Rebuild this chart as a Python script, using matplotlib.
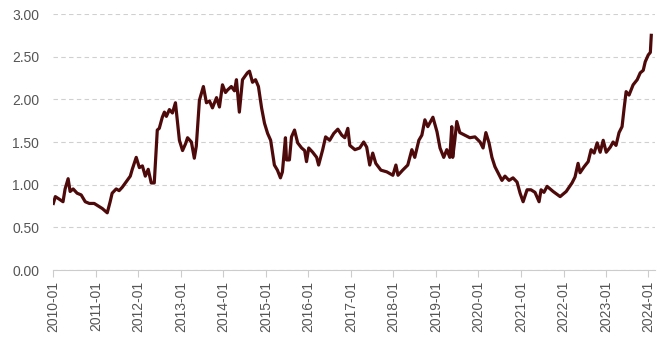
import matplotlib
matplotlib.use("Agg")
import matplotlib.pyplot as plt
import matplotlib.dates as mdates
import pandas as pd

dates = [
    "2010-01-01", "2010-01-18", "2010-02-21", "2010-03-25", "2010-04-12", "2010-05-08",
    "2010-05-25", "2010-06-20", "2010-07-24", "2010-08-28", "2010-10-02", "2010-11-06",
    "2010-12-18", "2011-01-22", "2011-02-26", "2011-04-09", "2011-05-04", "2011-05-21",
    "2011-06-25", "2011-07-20", "2011-08-16", "2011-09-28", "2011-10-24", "2011-11-10",
    "2011-12-14", "2012-01-10", "2012-02-05", "2012-03-01", "2012-03-26", "2012-04-21",
    "2012-05-17", "2012-06-12", "2012-06-29", "2012-07-25", "2012-08-12", "2012-08-29",
    "2012-09-24", "2012-10-20", "2012-11-15", "2012-12-19", "2013-01-15", "2013-02-10",
    "2013-02-27", "2013-04-01", "2013-04-26", "2013-05-13", "2013-06-09", "2013-07-13",
    "2013-08-08", "2013-09-04", "2013-09-29", "2013-11-03", "2013-11-28", "2013-12-24",
    "2014-01-19", "2014-02-06", "2014-03-10", "2014-04-06", "2014-04-23", "2014-05-18",
    "2014-06-14", "2014-07-26", "2014-08-13", "2014-09-08", "2014-10-04", "2014-10-29",
    "2014-11-25", "2014-12-20", "2015-01-16", "2015-02-11", "2015-03-15", "2015-04-10",
    "2015-05-06", "2015-05-23", "2015-06-18", "2015-06-27", "2015-07-22", "2015-08-09",
    "2015-09-04", "2015-10-01", "2015-11-04", "2015-11-30", "2015-12-16", "2016-01-04",
    "2016-02-07", "2016-03-12", "2016-03-29", "2016-05-03", "2016-05-28", "2016-07-02",
    "2016-08-06", "2016-09-10", "2016-10-14", "2016-11-09", "2016-12-05", "2016-12-22",
    "2017-02-04", "2017-03-17", "2017-04-20", "2017-05-16", "2017-06-11", "2017-07-07",
    "2017-08-02", "2017-09-15", "2017-11-05", "2017-12-27", "2018-01-22", "2018-02-09",
    "2018-03-21", "2018-05-04", "2018-06-08", "2018-07-03", "2018-08-07", "2018-09-02",
    "2018-09-28", "2018-10-23", "2018-12-06", "2019-01-10", "2019-02-05", "2019-03-09",
    "2019-04-04", "2019-04-30", "2019-05-17", "2019-05-25", "2019-06-12", "2019-06-29",
    "2019-07-25", "2019-09-07", "2019-10-19", "2019-12-02", "2020-01-15", "2020-02-10",
    "2020-03-05", "2020-04-01", "2020-04-26", "2020-05-22", "2020-06-17", "2020-07-21",
    "2020-08-16", "2020-09-20", "2020-10-24", "2020-11-28", "2020-12-24", "2021-01-19",
    "2021-02-22", "2021-03-27", "2021-05-01", "2021-06-05", "2021-06-22", "2021-07-17",
    "2021-08-13", "2021-10-04", "2021-12-03", "2022-01-24", "2022-03-15", "2022-04-10",
    "2022-05-06", "2022-05-23", "2022-06-27", "2022-08-01", "2022-08-26", "2022-09-21",
    "2022-10-17", "2022-11-12", "2022-12-08", "2023-01-03", "2023-02-07", "2023-03-03",
    "2023-03-28", "2023-04-23", "2023-05-19", "2023-06-06", "2023-06-23", "2023-07-18",
    "2023-08-22", "2023-09-26", "2023-10-22", "2023-11-17", "2023-12-04", "2023-12-30",
    "2024-01-17", "2024-01-25",
]

values = [
    0.78, 0.86, 0.83, 0.80, 0.95, 1.07,
    0.92, 0.95, 0.90, 0.88, 0.80, 0.78,
    0.78, 0.75, 0.72, 0.67, 0.80, 0.90,
    0.95, 0.93, 0.97, 1.05, 1.10, 1.18,
    1.32, 1.20, 1.22, 1.10, 1.18, 1.02,
    1.02, 1.64, 1.66, 1.79, 1.85, 1.80,
    1.88, 1.84, 1.96, 1.52, 1.40, 1.48,
    1.55, 1.50, 1.31, 1.45, 1.99, 2.15,
    1.96, 1.98, 1.90, 2.02, 1.91, 2.17,
    2.08, 2.11, 2.15, 2.10, 2.23, 1.85,
    2.23, 2.31, 2.33, 2.20, 2.23, 2.15,
    1.90, 1.72, 1.60, 1.52, 1.23, 1.17,
    1.08, 1.15, 1.55, 1.29, 1.29, 1.56,
    1.64, 1.49, 1.43, 1.40, 1.27, 1.43,
    1.38, 1.32, 1.23, 1.41, 1.56, 1.52,
    1.60, 1.65, 1.58, 1.55, 1.66, 1.46,
    1.41, 1.43, 1.50, 1.44, 1.23, 1.37,
    1.25, 1.17, 1.15, 1.11, 1.23, 1.11,
    1.17, 1.23, 1.41, 1.32, 1.52, 1.58,
    1.76, 1.68, 1.79, 1.62, 1.43, 1.32,
    1.41, 1.32, 1.68, 1.32, 1.52, 1.74,
    1.61, 1.58, 1.55, 1.56, 1.50, 1.43,
    1.61, 1.49, 1.32, 1.21, 1.14, 1.05,
    1.10, 1.05, 1.08, 1.03, 0.90, 0.80,
    0.94, 0.94, 0.91, 0.80, 0.94, 0.91,
    0.98, 0.92, 0.86, 0.92, 1.02, 1.09,
    1.25, 1.14, 1.21, 1.27, 1.41, 1.37,
    1.49, 1.38, 1.52, 1.38, 1.44, 1.50,
    1.46, 1.61, 1.68, 1.90, 2.09, 2.05,
    2.17, 2.23, 2.31, 2.34, 2.44, 2.52,
    2.55, 2.75,
]

y_ticks = [0.0, 0.5, 1.0, 1.5, 2.0, 2.5, 3.0]

plt.rcParams["font.family"] = ["Liberation Sans", "DejaVu Sans"]

df = pd.DataFrame({"date": pd.to_datetime(dates), "value": values})

fig = plt.figure(figsize=(6.7, 3.45), dpi=100)
ax = fig.add_axes([53 / 670, 75 / 345, 602 / 670, 256 / 345])

ax.plot(df["date"], df["value"], color="#4e0a0a", lw=2.3, solid_joinstyle="round")

ax.set_ylim(0, 3.0)
ax.set_xlim(pd.Timestamp("2009-12-29"), pd.Timestamp("2024-02-26"))
ax.set_yticks(y_ticks)
ax.set_yticklabels([f"{v:.2f}" for v in y_ticks])
ax.yaxis.grid(True, color="#d0d0d0", linestyle=(0, (4, 3)), lw=0.8)
ax.set_axisbelow(True)

ax.xaxis.set_major_locator(mdates.YearLocator())
ax.xaxis.set_major_formatter(mdates.DateFormatter("%Y-%m"))
plt.setp(ax.get_xticklabels(), rotation=90)

for side in ["top", "right", "left"]:
    ax.spines[side].set_visible(False)
ax.spines["bottom"].set_color("#cccccc")
ax.tick_params(axis="y", length=0, pad=10, labelsize=10, labelcolor="#555555")
ax.tick_params(axis="x", length=5, color="#cccccc", pad=3, labelsize=10, labelcolor="#555555")

fig.savefig("out.png", dpi=100)
